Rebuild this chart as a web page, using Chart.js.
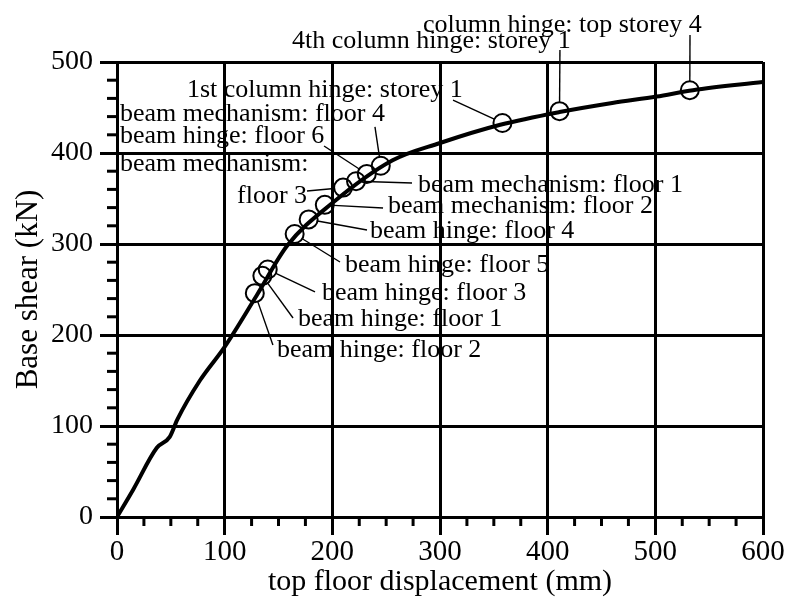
<!DOCTYPE html>
<html>
<head>
<meta charset="utf-8">
<script src="https://cdn.jsdelivr.net/npm/chart.js@4.4.1/dist/chart.umd.min.js"></script>
<style>
  body { margin: 0; background: #fff; }
  #wrap { width: 788px; height: 602px; }
</style>
</head>
<body>
<div id="wrap"><canvas id="pushover" width="788" height="602"></canvas></div>
<script>
// pushover curve: top floor displacement (mm) vs base shear (kN)
var curveDisp  = [0, 15, 37, 49, 56, 77, 100, 130, 158, 200, 256, 300, 356, 411, 460, 501, 535, 600];
var curveShear = [0, 30, 76, 88, 107, 150, 187, 244, 298, 345, 392, 411, 431, 445, 455, 462, 469, 478];

// hinge / mechanism events marked with circles
var eventDisp  = [128, 135, 140, 165, 178, 193, 210, 222, 232, 245, 358, 411, 532];
var eventShear = [246, 265, 272, 311, 327, 343, 362, 369, 377, 386, 433, 446, 469];
var eventLabels = [
  ['beam hinge: floor 2'],
  ['beam hinge: floor 1'],
  ['beam hinge: floor 3'],
  ['beam hinge: floor 5'],
  ['beam hinge: floor 4'],
  ['beam mechanism: floor 2'],
  ['beam mechanism:', 'floor 3'],
  ['beam mechanism: floor 1'],
  ['beam hinge: floor 6'],
  ['beam mechanism: floor 4'],
  ['1st column hinge: storey 1'],
  ['4th column hinge: storey 1'],
  ['column hinge: top storey 4']
];

// label placement in data units: text x, text baseline y, leader start x, leader start y
var labelSpots = [
  [148.6, 175.8, 144.8, 189.0],
  [168.1, 209.9, 163.5, 218.7],
  [190.4, 238.5, 183.9, 247.3],
  [211.8, 269.2, 207.1, 280.2],
  [235.0, 306.6, 232.2, 315.4],
  [251.7, 334.1, 247.1, 339.6],
  [2.8, 380.2, 176.5, 358.2],
  [279.6, 357.1, 274.0, 367.0],
  [2.8, 411.0, 192.3, 407.7],
  [2.8, 435.2, 239.6, 428.6],
  [65.0, 461.5, 312.1, 458.2],
  [162.5, 515.4, 411.4, 513.2],
  [284.2, 533.0, 532.2, 529.7]
];
// second line of the two-line label ("floor 3")
var secondLineSpot = [111.5, 345.1];

var serif = "'Liberation Serif', 'Times New Roman', serif";

function pairs(xs, ys) {
  return xs.map(function (x, i) { return { x: x, y: ys[i] }; });
}

var minorTicks = {
  id: 'minorTicks',
  afterDraw: function (chart) {
    var c = chart.ctx, xs = chart.scales.x, ys = chart.scales.y, a = chart.chartArea;
    c.save();
    c.strokeStyle = '#000';
    c.lineWidth = 3;
    for (var v = 25; v < 600; v += 25) {
      if (v % 100 === 0) continue;
      var px = xs.getPixelForValue(v);
      c.beginPath(); c.moveTo(px, a.bottom); c.lineTo(px, a.bottom + 9); c.stroke();
    }
    for (var w = 20; w < 500; w += 20) {
      if (w % 100 === 0) continue;
      var py = ys.getPixelForValue(w);
      c.beginPath(); c.moveTo(a.left, py); c.lineTo(a.left - 10, py); c.stroke();
    }
    c.restore();
  }
};

var eventNotes = {
  id: 'eventNotes',
  afterDraw: function (chart) {
    var c = chart.ctx, xs = chart.scales.x, ys = chart.scales.y;
    c.save();
    c.font = '26px ' + serif;
    c.fillStyle = '#000';
    c.strokeStyle = '#000';
    c.lineWidth = 1.4;
    c.textBaseline = 'alphabetic';
    c.textAlign = 'left';
    eventLabels.forEach(function (lines, i) {
      var s = labelSpots[i];
      c.fillText(lines[0], xs.getPixelForValue(s[0]), ys.getPixelForValue(s[1]));
      if (lines.length > 1) {
        c.fillText(lines[1], xs.getPixelForValue(secondLineSpot[0]), ys.getPixelForValue(secondLineSpot[1]));
      }
      var sx = xs.getPixelForValue(s[2]), sy = ys.getPixelForValue(s[3]);
      var ex = xs.getPixelForValue(eventDisp[i]), ey = ys.getPixelForValue(eventShear[i]);
      var dx = ex - sx, dy = ey - sy, len = Math.sqrt(dx * dx + dy * dy);
      if (len > 9) { ex -= dx / len * 9; ey -= dy / len * 9; }
      c.beginPath(); c.moveTo(sx, sy); c.lineTo(ex, ey); c.stroke();
    });
    c.restore();
  }
};

new Chart(document.getElementById('pushover').getContext('2d'), {
  type: 'scatter',
  data: {
    datasets: [{
      label: 'pushover',
      data: pairs(curveDisp, curveShear),
      showLine: true,
      borderColor: '#000',
      borderWidth: 4,
      pointRadius: 0,
      tension: 0.3,
      cubicInterpolationMode: 'monotone'
    }, {
      label: 'events',
      data: pairs(eventDisp, eventShear),
      showLine: false,
      pointStyle: 'circle',
      pointRadius: 9,
      pointBorderWidth: 2,
      pointBorderColor: '#000',
      pointBackgroundColor: 'rgba(0,0,0,0)'
    }]
  },
  options: {
    responsive: false,
    animation: false,
    layout: { padding: { top: 62, right: 25, left: 0, bottom: 0 } },
    plugins: { legend: { display: false }, tooltip: { enabled: false } },
    scales: {
      x: {
        type: 'linear', min: 0, max: 600,
        afterFit: function (s) { s.height = 85; },
        ticks: { stepSize: 100, color: '#000', font: { family: serif, size: 29 }, padding: 0, maxRotation: 0 },
        grid: { color: '#000', lineWidth: 3, tickLength: 18, tickColor: '#000' },
        border: { color: '#000', width: 3 },
        title: { display: true, text: 'top floor displacement (mm)', color: '#000', font: { family: serif, size: 30 }, padding: { top: 0, bottom: 2 } }
      },
      y: {
        type: 'linear', min: 0, max: 500,
        afterFit: function (s) { s.width = 117; },
        ticks: { stepSize: 100, color: '#000', font: { family: serif, size: 28 }, padding: 7 },
        grid: { color: '#000', lineWidth: 3, tickLength: 17, tickColor: '#000' },
        border: { color: '#000', width: 3 },
        title: { display: true, text: 'Base shear (kN)', color: '#000', font: { family: serif, size: 31 }, padding: { top: 10, bottom: 0 } }
      }
    }
  },
  plugins: [minorTicks, eventNotes]
});
</script>
</body>
</html>
